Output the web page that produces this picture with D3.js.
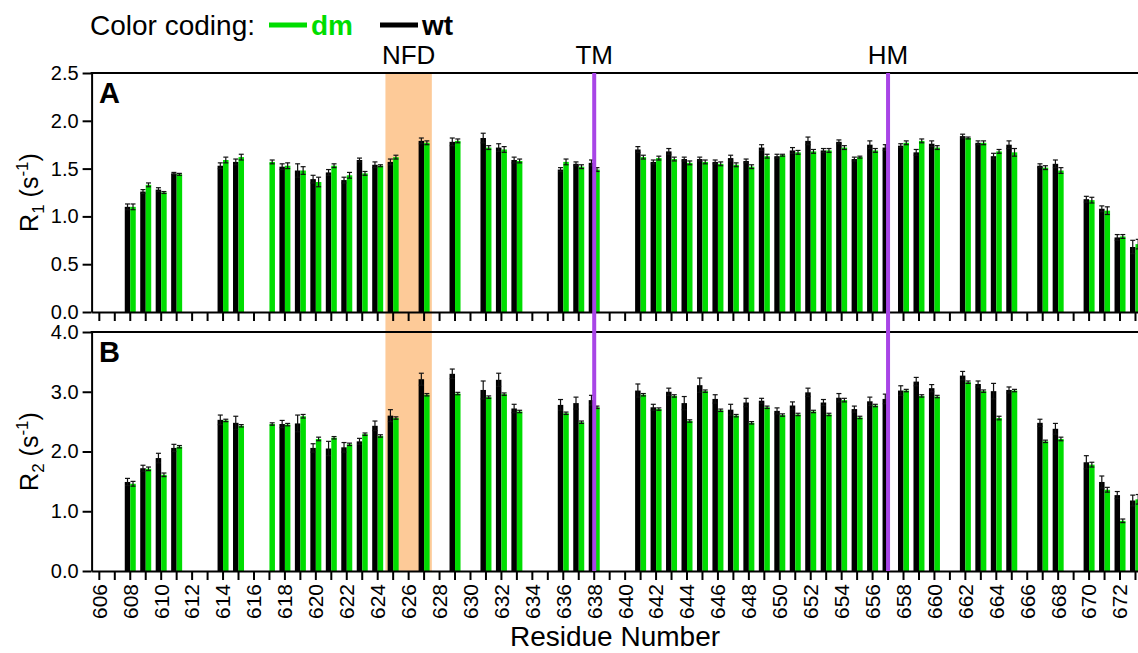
<!DOCTYPE html>
<html>
<head>
<meta charset="utf-8">
<script src="https://cdn.jsdelivr.net/npm/d3@7"></script>
<style>
  body { margin: 0; background: #fff; }
  text { font-family: "Liberation Sans", Arial, sans-serif; }
</style>
</head>
<body>
<div id="chart"></div>
<script>
// residues 606..673, null = no data
const residues = [606,607,608,609,610,611,612,613,614,615,616,617,618,619,620,621,622,623,624,625,626,627,628,629,630,631,632,633,634,635,636,637,638,639,640,641,642,643,644,645,646,647,648,649,650,651,652,653,654,655,656,657,658,659,660,661,662,663,664,665,666,667,668,669,670,671,672,673];

const r1_wt = [null,null,1.10,1.26,1.28,1.45,null,null,1.53,1.57,null,null,1.52,1.48,1.39,1.46,1.38,1.59,1.54,1.57,null,1.79,null,1.78,null,1.82,1.72,1.59,null,null,1.49,1.55,1.56,null,null,1.70,1.57,1.68,1.60,1.60,1.57,1.61,1.58,1.72,1.63,1.69,1.79,1.69,1.78,1.60,1.75,1.72,1.74,1.67,1.76,null,1.84,1.77,1.63,1.75,null,1.53,1.55,null,1.18,1.08,0.78,0.68];
const r1_dm = [null,null,1.10,1.33,1.25,1.44,null,null,1.59,1.62,null,1.57,1.53,1.48,1.36,1.53,1.43,1.45,1.53,1.62,null,1.77,null,1.79,null,1.72,1.70,1.58,null,null,1.57,1.52,1.49,null,null,1.62,1.61,1.60,1.56,1.57,1.55,1.54,1.52,1.63,1.64,1.67,1.68,1.69,1.72,1.62,1.69,null,1.77,1.79,1.72,null,1.82,1.77,1.68,1.67,null,1.51,1.48,null,1.17,1.06,0.79,0.71];
const r1_wt_err = [0,0,0.03,0.02,0.02,0.01,0,0,0.03,0.03,0,0,0.03,0.07,0.04,0.03,0.03,0.02,0.03,0.03,0,0.03,0,0.04,0,0.05,0.04,0.03,0,0,0.02,0.02,0.03,0,0,0.03,0.02,0.03,0.02,0.02,0.02,0.03,0.02,0.03,0.02,0.03,0.04,0.02,0.02,0.02,0.04,0.03,0.02,0.03,0.03,0,0.02,0.02,0.03,0.04,0,0.02,0.04,0,0.03,0.03,0.03,0.07];
const r1_dm_err = [0,0,0.03,0.02,0.01,0.01,0,0,0.03,0.03,0,0.02,0.03,0.04,0.05,0.02,0.03,0.02,0.01,0.02,0,0.02,0,0.02,0,0.02,0.03,0.02,0,0,0.03,0.02,0.02,0,0,0.02,0.02,0.02,0.02,0.02,0.02,0.02,0.02,0.02,0.01,0.02,0.02,0.02,0.02,0.01,0.02,0,0.02,0.02,0.02,0,0.01,0.02,0.02,0.04,0,0.02,0.03,0,0.03,0.04,0.02,0.05];

const r2_wt = [null,null,1.49,1.72,1.89,2.06,null,null,2.53,2.48,null,null,2.46,2.47,2.06,2.05,2.07,2.17,2.43,2.60,null,3.21,null,3.30,null,3.03,3.20,2.72,null,null,2.78,2.81,2.86,null,null,3.02,2.74,3.00,2.81,3.11,2.88,2.70,2.82,2.85,2.68,2.77,2.99,2.82,2.90,2.71,2.84,2.88,3.02,3.17,3.06,null,3.27,3.13,3.01,3.03,null,2.48,2.38,null,1.82,1.49,1.27,1.18];
const r2_dm = [null,null,1.46,1.71,1.61,2.08,null,null,2.52,2.43,null,2.46,2.45,2.59,2.21,2.23,2.12,2.29,2.26,2.56,null,2.95,null,2.97,null,2.91,2.96,2.67,null,null,2.64,2.49,2.74,null,null,2.95,2.71,2.93,2.51,3.01,2.69,2.60,2.48,2.74,2.61,2.62,2.67,2.62,2.86,2.57,2.77,null,3.02,2.93,2.92,null,3.16,3.01,2.56,3.02,null,2.17,2.21,null,1.78,1.36,0.84,1.20];
const r2_wt_err = [0,0,0.06,0.05,0.08,0.06,0,0,0.08,0.11,0,0,0.06,0.14,0.07,0.12,0.08,0.05,0.08,0.10,0,0.10,0,0.08,0,0.15,0.11,0.07,0,0,0.09,0.10,0.08,0,0,0.11,0.05,0.06,0.11,0.12,0.07,0.09,0.07,0.04,0.05,0.06,0.07,0.05,0.07,0.05,0.07,0.08,0.08,0.07,0.06,0,0.07,0.05,0.13,0.05,0,0.06,0.09,0,0.11,0.10,0.06,0.09];
const r2_dm_err = [0,0,0.04,0.03,0.03,0.02,0,0,0.02,0.02,0,0.02,0.02,0.03,0.03,0.02,0.02,0.02,0.02,0.02,0,0.02,0,0.02,0,0.02,0.02,0.02,0,0,0.02,0.02,0.02,0,0,0.02,0.02,0.02,0.02,0.02,0.02,0.02,0.02,0.02,0.02,0.02,0.02,0.02,0.03,0.02,0.02,0,0.02,0.02,0.02,0,0.02,0.02,0.03,0.02,0,0.02,0.03,0,0.04,0.04,0.03,0.08];

const seriesNames = ["wt", "dm"];
const colors = { wt: "#000000", dm: "#00dd00" };

// regions
const nfd = [624.5, 627.5];
const markers = [{ label: "TM", res: 638 }, { label: "HM", res: 657 }];

const width = 1138, height = 653;

const svg = d3.select("#chart").append("svg")
    .attr("width", width)
    .attr("height", height);

const step = 15.465;
const x0 = 91.6;
const x = d3.scaleBand()
    .domain(residues)
    .range([x0, x0 + residues.length * step])
    .padding(0);
const bw = x.bandwidth();
const xs = d3.scaleBand()
    .domain(seriesNames)
    .range([bw / 2 - 5.5, bw / 2 + 5.5]);

// continuous helper for region edges
const xRes = d3.scaleLinear()
    .domain([residues[0] - 0.5, residues[residues.length - 1] + 0.5])
    .range(x.range());

const panels = [
    { letter: "A", top: 73, bottom: 312, max: 2.5, ticks: [0, 0.5, 1, 1.5, 2, 2.5], wt: r1_wt, dm: r1_dm, wtErr: r1_wt_err, dmErr: r1_dm_err, label: "R", sub: "1" },
    { letter: "B", top: 332, bottom: 571, max: 4, ticks: [0, 1, 2, 3, 4], wt: r2_wt, dm: r2_dm, wtErr: r2_wt_err, dmErr: r2_dm_err, label: "R", sub: "2" }
];

// NFD shaded region through both panels
svg.append("rect")
    .attr("x", xRes(nfd[0]))
    .attr("width", xRes(nfd[1]) - xRes(nfd[0]))
    .attr("y", panels[0].top)
    .attr("height", panels[1].bottom - panels[0].top)
    .attr("fill", "#fdca98");

svg.append("text")
    .attr("x", xRes((nfd[0] + nfd[1]) / 2))
    .attr("y", 64)
    .attr("text-anchor", "middle")
    .style("font-size", "26px")
    .text("NFD");

panels.forEach(p => {
    const y = d3.scaleLinear().domain([0, p.max]).range([p.bottom, p.top]);
    const g = svg.append("g");

    const rows = residues.map((r, i) => ({
        res: r,
        wt: p.wt[i], dm: p.dm[i],
        wtErr: p.wtErr[i], dmErr: p.dmErr[i]
    }));

    const groups = g.selectAll(".grp")
        .data(rows)
        .join("g")
        .attr("transform", d => `translate(${x(d.res)},0)`);

    seriesNames.forEach(s => {
        const present = groups.filter(d => d[s] !== null);
        present.append("rect")
            .attr("x", xs(s))
            .attr("width", xs.bandwidth())
            .attr("y", d => y(d[s]))
            .attr("height", d => p.bottom - y(d[s]))
            .attr("fill", colors[s]);

        // error bars
        const eb = present.append("g").attr("stroke", "#111").attr("stroke-width", 1.2);
        const cx = xs(s) + xs.bandwidth() / 2;
        eb.append("line")
            .attr("x1", cx).attr("x2", cx)
            .attr("y1", d => y(d[s] - d[s + "Err"]))
            .attr("y2", d => y(d[s] + d[s + "Err"]));
        eb.append("line")
            .attr("x1", cx - 2.5).attr("x2", cx + 2.5)
            .attr("y1", d => y(d[s] + d[s + "Err"]))
            .attr("y2", d => y(d[s] + d[s + "Err"]));
        eb.append("line")
            .attr("x1", cx - 2.5).attr("x2", cx + 2.5)
            .attr("y1", d => y(d[s] - d[s + "Err"]))
            .attr("y2", d => y(d[s] - d[s + "Err"]));
    });

    // left axis
    const ya = g.append("g")
        .attr("transform", `translate(${x0},0)`)
        .call(d3.axisLeft(y).tickValues(p.ticks).tickFormat(d3.format(".1f")).tickSize(9).tickSizeOuter(0).tickPadding(4));
    ya.selectAll("line, path").attr("stroke", "#000").attr("stroke-width", 2);
    ya.selectAll("text").style("font-size", "20px").attr("fill", "#000");

    // bottom axis
    const xa = g.append("g")
        .attr("transform", `translate(0,${p.bottom})`)
        .call(d3.axisBottom(x).tickSize(9).tickSizeOuter(0).tickFormat(d => d % 2 === 0 ? d : ""));
    xa.selectAll("line, path").attr("stroke", "#000").attr("stroke-width", 2);
    if (p.letter === "A") {
        xa.selectAll("text").remove();
    } else {
        xa.selectAll("text")
            .attr("transform", "rotate(-90)")
            .attr("text-anchor", "end")
            .attr("x", -13)
            .attr("y", 0)
            .attr("dy", "0.35em")
            .style("font-size", "21px")
            .attr("fill", "#000");
    }

    // top frame line
    g.append("line")
        .attr("x1", x0 - 1).attr("x2", width)
        .attr("y1", p.top).attr("y2", p.top)
        .attr("stroke", "#000").attr("stroke-width", 2);

    // panel letter
    g.append("text")
        .attr("x", 99)
        .attr("y", p.top + 30)
        .style("font-size", "29px")
        .style("font-weight", "bold")
        .text(p.letter);

    // y label R_n (s^-1)
    const yl = g.append("text")
        .attr("transform", `translate(38,${(p.top + p.bottom) / 2}) rotate(-90)`)
        .attr("text-anchor", "middle")
        .style("font-size", "25px");
    yl.append("tspan").text(p.label);
    yl.append("tspan").attr("dy", 6).style("font-size", "17px").text(p.sub);
    yl.append("tspan").attr("dy", -6).text(" (s");
    yl.append("tspan").attr("dy", -10).style("font-size", "17px").text("-1");
    yl.append("tspan").attr("dy", 10).text(")");
});

// TM / HM marker lines
markers.forEach(m => {
    const mx = x(m.res) + bw / 2;
    svg.append("line")
        .attr("x1", mx).attr("x2", mx)
        .attr("y1", panels[0].top).attr("y2", panels[1].bottom)
        .attr("stroke", "#a845e6")
        .attr("stroke-width", 4);
    svg.append("text")
        .attr("x", mx)
        .attr("y", 64)
        .attr("text-anchor", "middle")
        .style("font-size", "26px")
        .text(m.label);
});

// x title
svg.append("text")
    .attr("x", 615)
    .attr("y", 646)
    .attr("text-anchor", "middle")
    .style("font-size", "28px")
    .text("Residue Number");

// legend
svg.append("text")
    .attr("x", 90).attr("y", 35)
    .style("font-size", "28px")
    .text("Color coding:");

const legend = [{ name: "dm", x: 269 }, { name: "wt", x: 380 }];
legend.forEach(l => {
    svg.append("line")
        .attr("x1", l.x).attr("x2", l.x + 38)
        .attr("y1", 25).attr("y2", 25)
        .attr("stroke", colors[l.name])
        .attr("stroke-width", 5);
    svg.append("text")
        .attr("x", l.x + 42).attr("y", 35)
        .style("font-size", "28px")
        .style("font-weight", "bold")
        .attr("fill", colors[l.name])
        .text(l.name);
});
</script>
</body>
</html>
